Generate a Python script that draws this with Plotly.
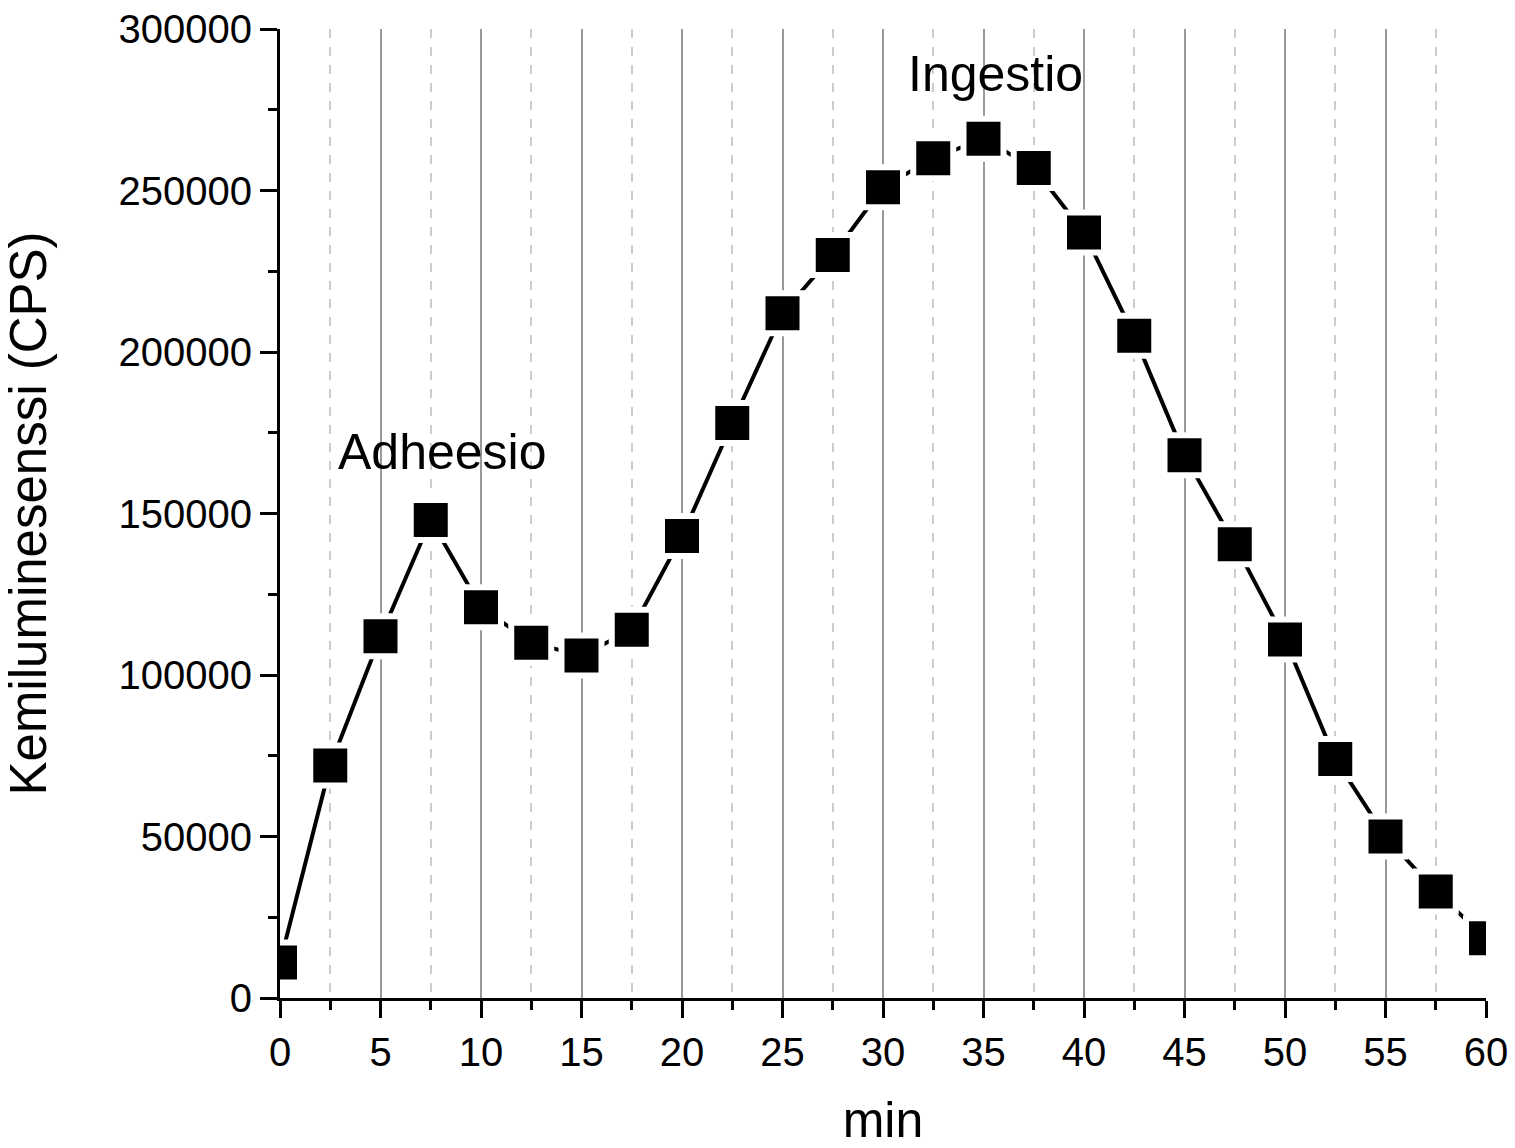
import plotly.graph_objects as go

minutes = [0, 2.5, 5, 7.5, 10, 12.5, 15, 17.5, 20, 22.5, 25, 27.5, 30,
           32.5, 35, 37.5, 40, 42.5, 45, 47.5, 50, 52.5, 55, 57.5, 60]
cps = [11000, 72000, 112000, 148000, 121000, 110000, 106000, 114000, 143000,
       178000, 212000, 230000, 251000, 260000, 266000, 257000, 237000, 205000,
       168000, 140500, 111000, 74000, 50000, 33000, 18500]

labels = ["Adheesio", "Ingestio"]
label_x = [8.1, 35.6]
label_y = [169000, 286000]

FONT = "Liberation Sans, Arial, sans-serif"

fig = go.Figure()
fig.add_trace(go.Scatter(
    x=minutes, y=cps, mode="lines+markers",
    line=dict(color="black", width=4),
    marker=dict(symbol="square", size=40, color="black",
                line=dict(color="white", width=6)),
    cliponaxis=True, showlegend=False,
))

for t, xx, yy in zip(labels, label_x, label_y):
    fig.add_annotation(x=xx, y=yy, text=t, showarrow=False,
                       font=dict(size=50, color="black", family=FONT),
                       xanchor="center", yanchor="middle")

fig.update_layout(
    width=1515, height=1148,
    margin=dict(l=280, r=29, t=29, b=150),
    paper_bgcolor="white", plot_bgcolor="white",
    font=dict(family=FONT, color="black"),
)

fig.update_xaxes(
    range=[0, 60], tickvals=list(range(0, 61, 5)), automargin=False,
    showline=True, linecolor="black", linewidth=3,
    ticks="outside", ticklen=17, tickwidth=3, tickcolor="black",
    tickfont=dict(size=40), zeroline=False,
    showgrid=True, gridcolor="#999999", gridwidth=1.5,
    minor=dict(tickvals=[2.5 + 5 * i for i in range(12)], ticks="outside",
               ticklen=9, tickwidth=3, tickcolor="black",
               showgrid=True, gridcolor="#cccccc", gridwidth=1.5, griddash="dash"),
    title=dict(text="min", font=dict(size=50), standoff=32),
)

fig.update_yaxes(
    range=[0, 300000], tickvals=list(range(0, 300001, 50000)), automargin=False,
    tickformat="d",
    showline=True, linecolor="black", linewidth=3,
    ticks="outside", ticklen=17, tickwidth=3, tickcolor="black",
    tickfont=dict(size=40), zeroline=False, showgrid=False,
    minor=dict(tickvals=[25000 + 50000 * i for i in range(6)], ticks="outside",
               ticklen=9, tickwidth=3, tickcolor="black", showgrid=False),
    title=dict(text="Kemiluminesenssi (CPS)", font=dict(size=51), standoff=68),
)

fig.write_html("out.html", config={"displayModeBar": False},
               post_script="document.body.style.margin='0';")
